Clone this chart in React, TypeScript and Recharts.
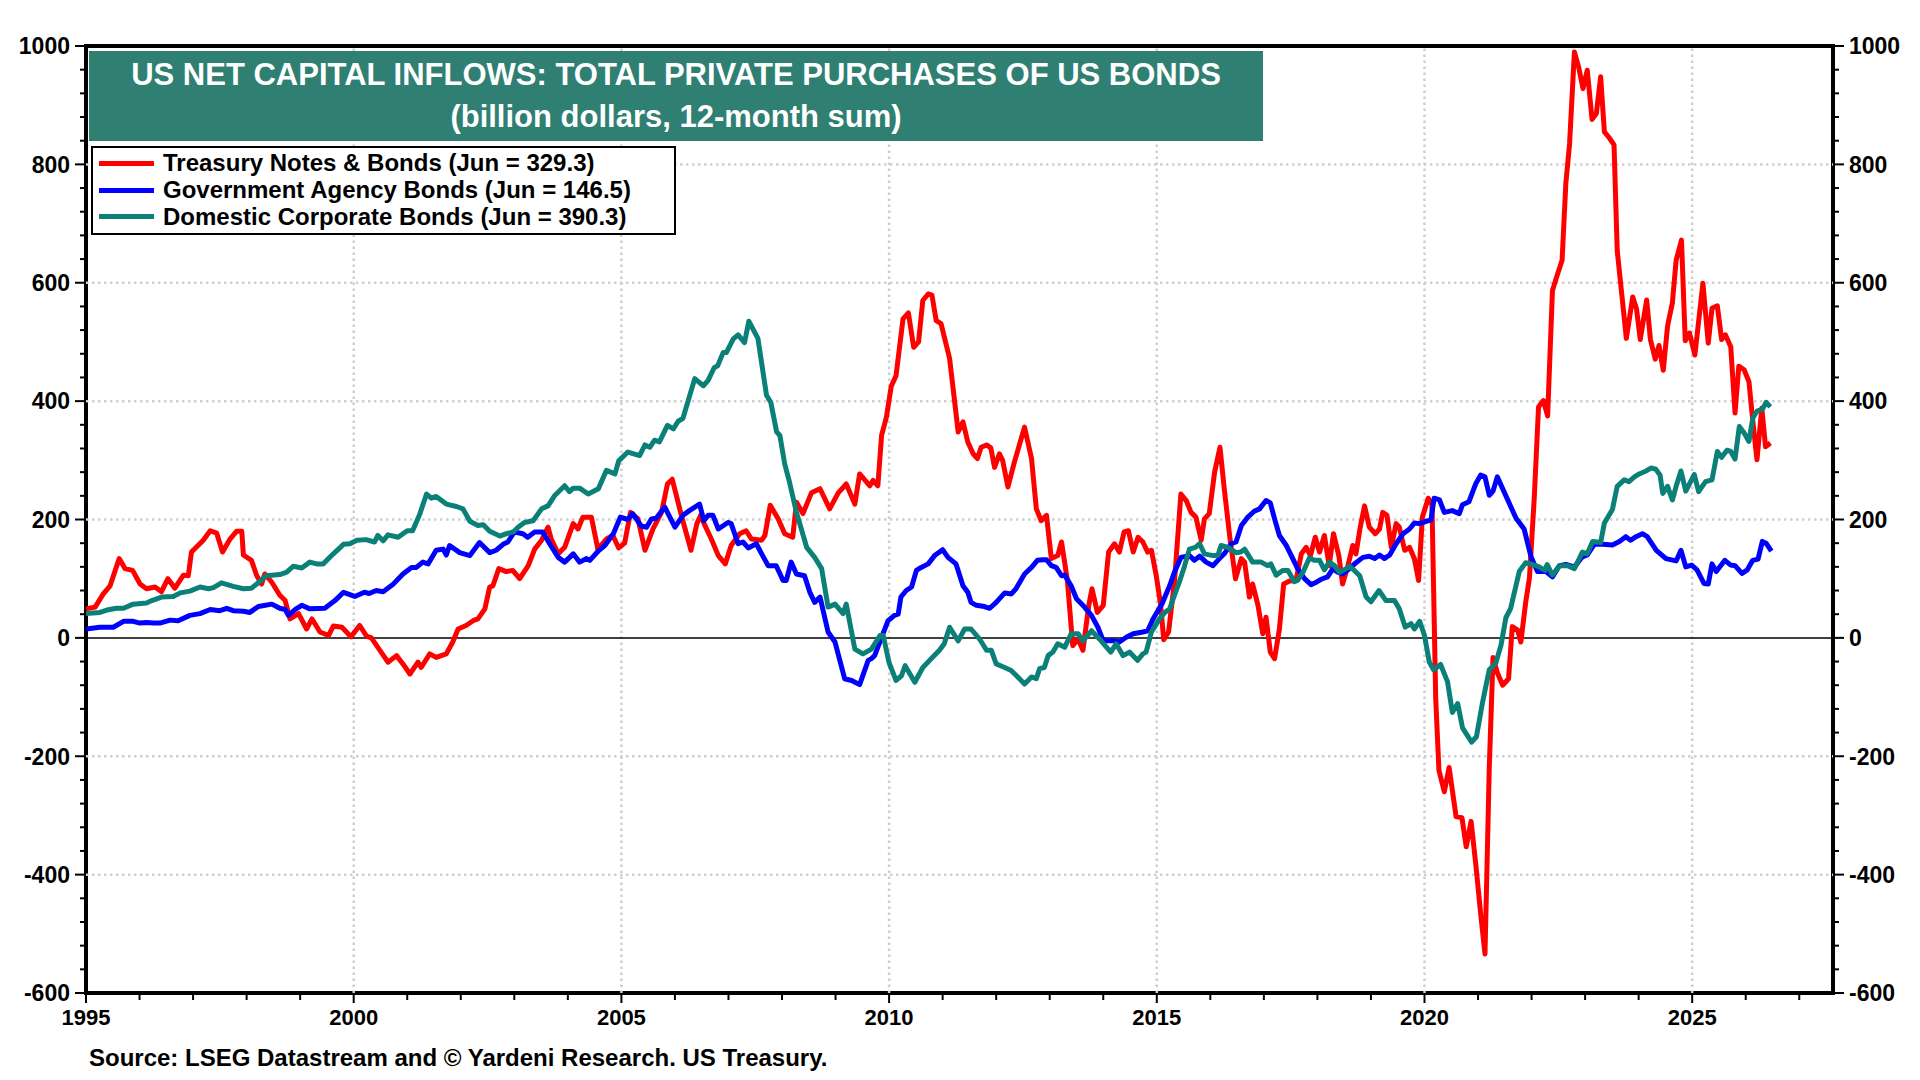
import React from 'react';
import { LineChart, Line, XAxis, YAxis, ReferenceLine, ReferenceArea } from 'recharts';

// 12-month sums, billion dollars as [decimal year, value]
const treasury: [number, number][] = [
  [1995.0, 49], [1995.17, 52], [1995.32, 74], [1995.45, 88], [1995.62, 134], [1995.73, 117], [1995.87, 114],
  [1996.01, 91], [1996.13, 83], [1996.29, 86], [1996.41, 78], [1996.53, 100], [1996.66, 84], [1996.82, 106],
  [1996.91, 105], [1996.97, 145], [1997.19, 165], [1997.32, 181], [1997.44, 177], [1997.55, 145], [1997.69, 167],
  [1997.81, 180], [1997.91, 180], [1997.94, 140], [1998.09, 131], [1998.19, 105], [1998.28, 91], [1998.34, 108],
  [1998.47, 94], [1998.62, 72], [1998.72, 63], [1998.81, 32], [1998.97, 41], [1999.12, 15], [1999.22, 32],
  [1999.37, 10], [1999.53, 4], [1999.62, 20], [1999.78, 18], [1999.95, 2], [2000.11, 21], [2000.24, 3],
  [2000.33, 0], [2000.49, -21], [2000.64, -41], [2000.8, -30], [2000.92, -44], [2001.05, -61], [2001.2, -41],
  [2001.26, -50], [2001.42, -27], [2001.54, -33], [2001.73, -27], [2001.85, -7], [2001.95, 15], [2002.1, 21],
  [2002.23, 29], [2002.32, 32], [2002.45, 49], [2002.54, 86], [2002.6, 88], [2002.71, 117], [2002.85, 112],
  [2002.97, 114], [2003.1, 100], [2003.26, 122], [2003.38, 150], [2003.51, 165], [2003.63, 187], [2003.69, 167],
  [2003.82, 142], [2003.94, 153], [2004.1, 193], [2004.19, 184], [2004.28, 204], [2004.44, 204], [2004.56, 150],
  [2004.72, 167], [2004.84, 173], [2004.95, 152], [2005.06, 160], [2005.17, 212], [2005.31, 201], [2005.44, 148],
  [2005.59, 184], [2005.75, 212], [2005.86, 260], [2005.95, 268], [2006.12, 207], [2006.3, 148], [2006.41, 193],
  [2006.48, 207], [2006.56, 190], [2006.68, 167], [2006.81, 139], [2006.94, 125], [2007.05, 156], [2007.21, 176],
  [2007.33, 181], [2007.43, 167], [2007.62, 165], [2007.68, 173], [2007.78, 224], [2007.93, 201], [2008.05, 176],
  [2008.2, 170], [2008.27, 229], [2008.39, 210], [2008.55, 245], [2008.71, 252], [2008.89, 218], [2009.05, 245],
  [2009.2, 260], [2009.36, 226], [2009.45, 277], [2009.64, 257], [2009.7, 266], [2009.79, 257], [2009.86, 342],
  [2009.95, 373], [2010.04, 425], [2010.13, 443], [2010.26, 539], [2010.36, 549], [2010.46, 491], [2010.55, 500],
  [2010.63, 570], [2010.73, 581], [2010.8, 579], [2010.88, 536], [2010.97, 531], [2011.13, 472], [2011.29, 348],
  [2011.38, 365], [2011.47, 331], [2011.57, 311], [2011.65, 303], [2011.72, 322], [2011.82, 326], [2011.9, 321],
  [2011.97, 288], [2012.06, 311], [2012.12, 300], [2012.22, 255], [2012.34, 297], [2012.44, 328], [2012.53, 356],
  [2012.66, 303], [2012.75, 218], [2012.84, 198], [2012.94, 207], [2013.03, 134], [2013.15, 139], [2013.22, 162],
  [2013.33, 97], [2013.43, -13], [2013.53, -2], [2013.62, -21], [2013.73, 55], [2013.79, 83], [2013.89, 43],
  [2014.0, 55], [2014.1, 145], [2014.21, 159], [2014.3, 145], [2014.39, 179], [2014.47, 181], [2014.56, 145],
  [2014.65, 170], [2014.74, 162], [2014.83, 145], [2014.9, 148], [2014.99, 105], [2015.07, 57], [2015.13, -3],
  [2015.22, 10], [2015.33, 95], [2015.45, 243], [2015.55, 232], [2015.64, 212], [2015.73, 204], [2015.83, 165],
  [2015.89, 201], [2015.98, 210], [2016.08, 280], [2016.18, 322], [2016.26, 252], [2016.36, 173], [2016.47, 100],
  [2016.58, 134], [2016.64, 128], [2016.73, 69], [2016.79, 91], [2016.89, 55], [2016.98, 7], [2017.04, 35],
  [2017.12, -24], [2017.2, -35], [2017.29, 15], [2017.37, 91], [2017.48, 96], [2017.6, 97], [2017.7, 142],
  [2017.79, 153], [2017.87, 139], [2017.96, 170], [2018.04, 145], [2018.13, 173], [2018.22, 122], [2018.3, 176],
  [2018.4, 139], [2018.47, 91], [2018.57, 122], [2018.66, 156], [2018.72, 142], [2018.8, 187], [2018.88, 223],
  [2018.97, 187], [2019.08, 176], [2019.16, 184], [2019.22, 212], [2019.3, 207], [2019.38, 153], [2019.47, 193],
  [2019.53, 187], [2019.63, 148], [2019.72, 153], [2019.81, 134], [2019.89, 97], [2019.96, 204], [2020.07, 236],
  [2020.14, 225], [2020.21, -104], [2020.27, -224], [2020.37, -260], [2020.46, -219], [2020.59, -302],
  [2020.7, -304], [2020.78, -353], [2020.87, -310], [2020.96, -384], [2021.05, -467], [2021.13, -534],
  [2021.21, -219], [2021.28, -33], [2021.36, -59], [2021.46, -80], [2021.57, -69], [2021.64, 19], [2021.74, 13],
  [2021.8, -7], [2021.89, 60], [2021.96, 101], [2022.05, 236], [2022.13, 390], [2022.22, 401], [2022.3, 375],
  [2022.39, 587], [2022.48, 613], [2022.57, 638], [2022.64, 768], [2022.71, 835], [2022.8, 990], [2022.88, 964],
  [2022.96, 928], [2023.04, 959], [2023.13, 876], [2023.21, 886], [2023.29, 948], [2023.36, 855], [2023.45, 845],
  [2023.54, 833], [2023.6, 654], [2023.69, 576], [2023.77, 506], [2023.89, 576], [2023.96, 556], [2024.03, 504],
  [2024.15, 571], [2024.22, 504], [2024.31, 471], [2024.38, 494], [2024.46, 452], [2024.54, 527], [2024.63, 566],
  [2024.7, 638], [2024.8, 672], [2024.87, 502], [2024.95, 515], [2025.05, 478], [2025.2, 599], [2025.3, 498],
  [2025.37, 557], [2025.47, 561], [2025.55, 504], [2025.62, 512], [2025.72, 492], [2025.8, 380], [2025.87, 459],
  [2025.97, 453], [2026.06, 433], [2026.13, 368], [2026.21, 301], [2026.3, 388], [2026.37, 323], [2026.46, 329.3],
];

const agency: [number, number][] = [
  [1995.0, 15], [1995.26, 18], [1995.51, 18], [1995.7, 28], [1995.88, 28], [1996.01, 25], [1996.13, 26],
  [1996.26, 25], [1996.38, 25], [1996.57, 30], [1996.72, 29], [1996.94, 38], [1997.13, 41], [1997.32, 48],
  [1997.5, 46], [1997.63, 50], [1997.75, 46], [1997.94, 45], [1998.06, 43], [1998.22, 53], [1998.47, 57],
  [1998.62, 50], [1998.72, 48], [1998.78, 38], [1998.91, 48], [1999.03, 55], [1999.18, 49], [1999.46, 50],
  [1999.65, 63], [1999.81, 77], [2000.02, 70], [2000.2, 77], [2000.29, 75], [2000.42, 80], [2000.55, 78],
  [2000.73, 90], [2000.92, 108], [2001.08, 119], [2001.17, 119], [2001.29, 128], [2001.39, 125], [2001.54, 148],
  [2001.67, 150], [2001.73, 140], [2001.79, 156], [2001.98, 144], [2002.17, 139], [2002.35, 161], [2002.54, 144],
  [2002.66, 148], [2002.79, 158], [2002.88, 162], [2003.0, 179], [2003.16, 176], [2003.25, 170], [2003.38, 179],
  [2003.53, 179], [2003.66, 159], [2003.82, 136], [2003.94, 128], [2004.1, 142], [2004.22, 128], [2004.35, 134],
  [2004.41, 131], [2004.56, 146], [2004.69, 156], [2004.85, 176], [2004.98, 204], [2005.12, 200], [2005.21, 210],
  [2005.37, 189], [2005.47, 187], [2005.56, 201], [2005.65, 202], [2005.81, 221], [2006.0, 187], [2006.15, 207],
  [2006.27, 215], [2006.46, 226], [2006.54, 198], [2006.62, 207], [2006.71, 207], [2006.81, 184], [2006.99, 195],
  [2007.05, 193], [2007.18, 159], [2007.27, 162], [2007.37, 152], [2007.52, 159], [2007.62, 142], [2007.74, 122],
  [2007.89, 122], [2008.02, 97], [2008.08, 97], [2008.17, 128], [2008.27, 108], [2008.42, 105], [2008.52, 77],
  [2008.61, 60], [2008.71, 69], [2008.86, 10], [2008.99, -7], [2009.17, -69], [2009.3, -72], [2009.45, -79],
  [2009.61, -38], [2009.67, -35], [2009.73, -30], [2009.86, 1], [2009.98, 29], [2010.1, 38], [2010.17, 40],
  [2010.22, 69], [2010.32, 80], [2010.42, 86], [2010.51, 114], [2010.6, 119], [2010.73, 125], [2010.85, 139],
  [2011.0, 149], [2011.1, 136], [2011.25, 125], [2011.38, 88], [2011.47, 77], [2011.53, 60], [2011.63, 55],
  [2011.78, 53], [2011.88, 50], [2012.0, 60], [2012.16, 76], [2012.28, 74], [2012.37, 83], [2012.53, 108],
  [2012.66, 119], [2012.77, 131], [2012.87, 132], [2012.94, 132], [2013.03, 122], [2013.12, 119], [2013.22, 105],
  [2013.28, 106], [2013.4, 88], [2013.5, 66], [2013.65, 52], [2013.78, 38], [2013.9, 18], [2014.0, -5],
  [2014.12, -5], [2014.21, -5], [2014.3, -7], [2014.43, 1], [2014.56, 7], [2014.74, 10], [2014.83, 12],
  [2014.93, 32], [2015.1, 58], [2015.24, 88], [2015.33, 111], [2015.45, 136], [2015.61, 139], [2015.7, 131],
  [2015.8, 138], [2015.92, 128], [2016.05, 122], [2016.17, 134], [2016.26, 142], [2016.39, 159], [2016.48, 162],
  [2016.58, 190], [2016.7, 204], [2016.82, 214], [2016.92, 218], [2017.04, 232], [2017.12, 228], [2017.2, 201],
  [2017.29, 173], [2017.42, 156], [2017.54, 134], [2017.63, 117], [2017.76, 100], [2017.88, 90], [2017.98, 94],
  [2018.07, 99], [2018.19, 103], [2018.29, 117], [2018.38, 111], [2018.47, 108], [2018.6, 117], [2018.72, 127],
  [2018.85, 136], [2018.97, 138], [2019.07, 134], [2019.16, 140], [2019.25, 134], [2019.35, 140], [2019.47, 159],
  [2019.6, 176], [2019.72, 184], [2019.81, 194], [2019.9, 193], [2020.03, 197], [2020.12, 199], [2020.18, 236],
  [2020.28, 233], [2020.37, 212], [2020.52, 215], [2020.65, 210], [2020.71, 225], [2020.83, 230], [2020.96, 261],
  [2021.05, 275], [2021.13, 272], [2021.21, 241], [2021.28, 248], [2021.36, 272], [2021.49, 246], [2021.71, 202],
  [2021.86, 184], [2021.99, 137], [2022.11, 112], [2022.27, 112], [2022.39, 103], [2022.52, 122], [2022.64, 124],
  [2022.8, 120], [2022.95, 137], [2023.04, 140], [2023.17, 158], [2023.33, 158], [2023.51, 157], [2023.64, 163],
  [2023.76, 171], [2023.85, 165], [2023.95, 171], [2024.07, 176], [2024.16, 171], [2024.33, 148], [2024.51, 134],
  [2024.7, 130], [2024.79, 148], [2024.88, 120], [2024.99, 123], [2025.09, 115], [2025.22, 92], [2025.3, 91],
  [2025.37, 125], [2025.45, 112], [2025.61, 131], [2025.72, 123], [2025.8, 122], [2025.93, 109], [2026.03, 115],
  [2026.13, 131], [2026.23, 133], [2026.31, 163], [2026.38, 160], [2026.48, 146.5],
];

const corporate: [number, number][] = [
  [1995.0, 41], [1995.26, 43], [1995.39, 47], [1995.57, 50], [1995.7, 50], [1995.88, 57], [1996.13, 59],
  [1996.23, 63], [1996.41, 69], [1996.63, 70], [1996.76, 76], [1996.94, 79], [1997.13, 86], [1997.29, 83],
  [1997.38, 85], [1997.53, 93], [1997.75, 87], [1997.94, 83], [1998.09, 84], [1998.19, 91], [1998.37, 105],
  [1998.62, 107], [1998.75, 111], [1998.87, 121], [1999.03, 118], [1999.18, 128], [1999.31, 125], [1999.43, 125],
  [1999.62, 142], [1999.81, 158], [1999.93, 159], [2000.06, 165], [2000.23, 166], [2000.39, 162], [2000.45, 173],
  [2000.55, 164], [2000.64, 174], [2000.83, 170], [2001.0, 181], [2001.1, 181], [2001.23, 208], [2001.36, 243],
  [2001.45, 236], [2001.54, 239], [2001.73, 226], [2001.92, 222], [2002.04, 218], [2002.17, 197], [2002.32, 190],
  [2002.42, 191], [2002.54, 180], [2002.73, 172], [2002.85, 176], [2002.98, 179], [2003.07, 187], [2003.19, 195],
  [2003.35, 198], [2003.51, 218], [2003.63, 223], [2003.75, 240], [2003.94, 257], [2004.03, 247], [2004.1, 253],
  [2004.22, 253], [2004.38, 243], [2004.57, 252], [2004.72, 283], [2004.88, 277], [2004.95, 299], [2005.12, 314],
  [2005.34, 308], [2005.44, 326], [2005.53, 322], [2005.62, 334], [2005.71, 331], [2005.86, 359], [2005.97, 353],
  [2006.06, 366], [2006.15, 371], [2006.37, 438], [2006.53, 426], [2006.62, 435], [2006.73, 456], [2006.8, 460],
  [2006.9, 482], [2006.96, 482], [2007.09, 505], [2007.18, 512], [2007.3, 499], [2007.38, 535], [2007.55, 506],
  [2007.71, 410], [2007.79, 398], [2007.9, 348], [2007.96, 342], [2008.05, 294], [2008.14, 263], [2008.27, 212],
  [2008.46, 153], [2008.61, 136], [2008.74, 117], [2008.86, 52], [2008.99, 57], [2009.14, 41], [2009.2, 57],
  [2009.36, -19], [2009.51, -27], [2009.67, -19], [2009.83, 4], [2009.89, 4], [2010.0, -42], [2010.13, -72],
  [2010.23, -64], [2010.3, -47], [2010.48, -75], [2010.63, -50], [2010.79, -35], [2010.94, -21], [2011.03, -10],
  [2011.13, 18], [2011.29, -5], [2011.41, 15], [2011.53, 15], [2011.69, -2], [2011.82, -21], [2011.91, -21],
  [2012.0, -44], [2012.16, -50], [2012.28, -55], [2012.38, -64], [2012.53, -78], [2012.66, -66], [2012.75, -69],
  [2012.81, -52], [2012.9, -50], [2012.97, -30], [2013.06, -24], [2013.15, -10], [2013.28, -16], [2013.4, 7],
  [2013.53, 7], [2013.62, -5], [2013.78, 12], [2013.96, -5], [2014.14, -24], [2014.24, -10], [2014.37, -30],
  [2014.49, -24], [2014.64, -38], [2014.74, -27], [2014.8, -24], [2014.9, 10], [2015.05, 32], [2015.15, 43],
  [2015.24, 49], [2015.33, 72], [2015.42, 94], [2015.52, 122], [2015.61, 150], [2015.72, 153], [2015.8, 159],
  [2015.89, 142], [2016.05, 139], [2016.14, 139], [2016.2, 156], [2016.33, 153], [2016.48, 144], [2016.57, 145],
  [2016.64, 150], [2016.79, 128], [2016.95, 128], [2017.07, 122], [2017.13, 125], [2017.23, 106], [2017.35, 114],
  [2017.45, 114], [2017.57, 95], [2017.63, 97], [2017.73, 111], [2017.85, 135], [2017.94, 131], [2018.04, 131],
  [2018.13, 115], [2018.22, 128], [2018.32, 122], [2018.41, 111], [2018.54, 117], [2018.6, 121], [2018.69, 114],
  [2018.79, 105], [2018.91, 69], [2019.0, 61], [2019.15, 80], [2019.28, 63], [2019.44, 63], [2019.53, 49],
  [2019.64, 18], [2019.75, 24], [2019.81, 15], [2019.91, 28], [2020.0, 4], [2020.09, -41], [2020.17, -54],
  [2020.3, -45], [2020.43, -74], [2020.52, -126], [2020.62, -111], [2020.71, -152], [2020.88, -176],
  [2020.97, -167], [2021.08, -111], [2021.21, -54], [2021.33, -43], [2021.43, -12], [2021.52, 34], [2021.61, 50],
  [2021.77, 112], [2021.89, 127], [2022.02, 124], [2022.14, 120], [2022.25, 114], [2022.29, 124], [2022.39, 106],
  [2022.52, 122], [2022.67, 122], [2022.8, 117], [2022.95, 145], [2023.04, 142], [2023.14, 163], [2023.29, 161],
  [2023.36, 194], [2023.51, 217], [2023.6, 256], [2023.73, 267], [2023.82, 264], [2023.92, 272], [2024.01, 277],
  [2024.14, 282], [2024.23, 287], [2024.32, 285], [2024.4, 275], [2024.45, 244], [2024.54, 256], [2024.63, 233],
  [2024.7, 256], [2024.79, 282], [2024.88, 248], [2025.04, 276], [2025.12, 247], [2025.25, 264], [2025.37, 267],
  [2025.47, 315], [2025.55, 305], [2025.65, 317], [2025.72, 315], [2025.8, 302], [2025.88, 357], [2025.97, 346],
  [2026.06, 332], [2026.13, 371], [2026.21, 383], [2026.31, 386], [2026.38, 398], [2026.46, 390.3],
];

const series = [
  { name: 'Treasury Notes & Bonds', last: 329.3, color: '#ff0000', points: treasury },
  { name: 'Government Agency Bonds', last: 146.5, color: '#0000ff', points: agency },
  { name: 'Domestic Corporate Bonds', last: 390.3, color: '#0b8079', points: corporate },
];

const X_MIN = 1995;
const X_MAX = 2027.63;
const Y_MIN = -600;
const Y_MAX = 1000;

const yearTicks = Array.from({ length: 33 }, (_, i) => 1995 + i);
const yTicks = Array.from({ length: 41 }, (_, i) => -600 + i * 40);
const gridYears = [2000, 2005, 2010, 2015, 2020, 2025];
const gridValues = [-400, -200, 200, 400, 600, 800];

const FONT = '"Liberation Sans", Arial, Helvetica, sans-serif';

const LeftTick = (props: any) => {
  const { x, y, payload } = props;
  const major = payload.value % 200 === 0;
  return (
    <g>
      <line x1={x - (major ? 11 : 6)} x2={x} y1={y} y2={y} stroke="#000" strokeWidth={2} />
      {major && (
        <text x={x - 16} y={y} dy="0.36em" textAnchor="end" fontFamily={FONT} fontWeight="bold" fontSize={23} fill="#000">
          {payload.value}
        </text>
      )}
    </g>
  );
};

const RightTick = (props: any) => {
  const { x, y, payload } = props;
  const major = payload.value % 200 === 0;
  return (
    <g>
      <line x1={x} x2={x + (major ? 11 : 6)} y1={y} y2={y} stroke="#000" strokeWidth={2} />
      {major && (
        <text x={x + 16} y={y} dy="0.36em" textAnchor="start" fontFamily={FONT} fontWeight="bold" fontSize={23} fill="#000">
          {payload.value}
        </text>
      )}
    </g>
  );
};

const BottomTick = (props: any) => {
  const { x, y, payload } = props;
  const major = payload.value % 5 === 0;
  return (
    <g>
      <line x1={x} x2={x} y1={y} y2={y + (major ? 10 : 7)} stroke="#000" strokeWidth={2} />
      {major && (
        <text x={x} y={y + 24} dy="0.36em" textAnchor="middle" fontFamily={FONT} fontWeight="bold" fontSize={22} fill="#000">
          {payload.value}
        </text>
      )}
    </g>
  );
};

export default function App() {
  return (
    <div style={{ position: 'absolute', left: 0, top: 0, width: 1920, height: 1080, background: '#fff', fontFamily: FONT }}>
      <LineChart width={1920} height={1080} margin={{ top: 46, right: 7, bottom: 37, left: 6 }}>
        <XAxis
          dataKey="t"
          type="number"
          domain={[X_MIN, X_MAX]}
          ticks={yearTicks}
          interval={0}
          allowDataOverflow
          axisLine={false}
          tickLine={false}
          tickSize={0}
          tickMargin={0}
          height={50}
          tick={<BottomTick />}
        />
        <YAxis
          yAxisId="left"
          dataKey="v"
          type="number"
          domain={[Y_MIN, Y_MAX]}
          ticks={yTicks}
          interval={0}
          allowDataOverflow
          axisLine={false}
          tickLine={false}
          tickSize={0}
          tickMargin={0}
          width={80}
          tick={<LeftTick />}
        />
        <YAxis
          yAxisId="right"
          orientation="right"
          type="number"
          domain={[Y_MIN, Y_MAX]}
          ticks={yTicks}
          interval={0}
          allowDataOverflow
          axisLine={false}
          tickLine={false}
          tickSize={0}
          tickMargin={0}
          width={80}
          tick={<RightTick />}
        />

        {/* dotted grid */}
        {gridYears.map((yr) => (
          <ReferenceLine key={`gx${yr}`} yAxisId="left" x={yr} stroke="#cfcfcf" strokeWidth={2.5} strokeDasharray="2.5 3.5" />
        ))}
        {gridValues.map((v) => (
          <ReferenceLine key={`gy${v}`} yAxisId="left" y={v} stroke="#cfcfcf" strokeWidth={2.5} strokeDasharray="2.5 3.5" />
        ))}
        <ReferenceLine yAxisId="left" y={0} stroke="#000" strokeWidth={1.5} />

        {series.map((s) => (
          <Line
            key={s.name}
            yAxisId="left"
            data={s.points.map(([t, v]) => ({ t, v }))}
            dataKey="v"
            name={s.name}
            type="linear"
            stroke={s.color}
            strokeWidth={5}
            strokeLinejoin="round"
            dot={false}
            activeDot={false}
            isAnimationActive={false}
          />
        ))}

        {/* frame */}
        <ReferenceArea yAxisId="left" x1={X_MIN} x2={X_MAX} y1={Y_MIN} y2={Y_MAX} fill="none" fillOpacity={0} stroke="#000" strokeWidth={4} />
      </LineChart>

      {/* title */}
      <div
        style={{
          position: 'absolute',
          left: 89,
          top: 51,
          width: 1174,
          height: 90,
          background: '#2f7f72',
          color: '#fff',
          fontWeight: 'bold',
          fontSize: 31,
          lineHeight: '42px',
          textAlign: 'center',
          paddingTop: 3,
          boxSizing: 'border-box',
        }}
      >
        <div>US NET CAPITAL INFLOWS: TOTAL PRIVATE PURCHASES OF US BONDS</div>
        <div>(billion dollars, 12-month sum)</div>
      </div>

      {/* legend */}
      <div
        style={{
          position: 'absolute',
          left: 91,
          top: 146,
          width: 585,
          height: 89,
          background: '#fff',
          border: '2.5px solid #000',
          boxSizing: 'border-box',
          paddingTop: 2,
        }}
      >
        {series.map((s) => (
          <div key={s.name} style={{ display: 'flex', alignItems: 'center', height: 26.7 }}>
            <div style={{ width: 55, height: 5, background: s.color, marginLeft: 6, marginRight: 9 }} />
            <span style={{ fontWeight: 'bold', fontSize: 24, color: '#000', whiteSpace: 'nowrap' }}>
              {`${s.name} (Jun = ${s.last.toFixed(1)})`}
            </span>
          </div>
        ))}
      </div>

      {/* source */}
      <div style={{ position: 'absolute', left: 89, top: 1044, fontWeight: 'bold', fontSize: 24, color: '#000', whiteSpace: 'nowrap' }}>
        Source: LSEG Datastream and © Yardeni Research. US Treasury.
      </div>
    </div>
  );
}
